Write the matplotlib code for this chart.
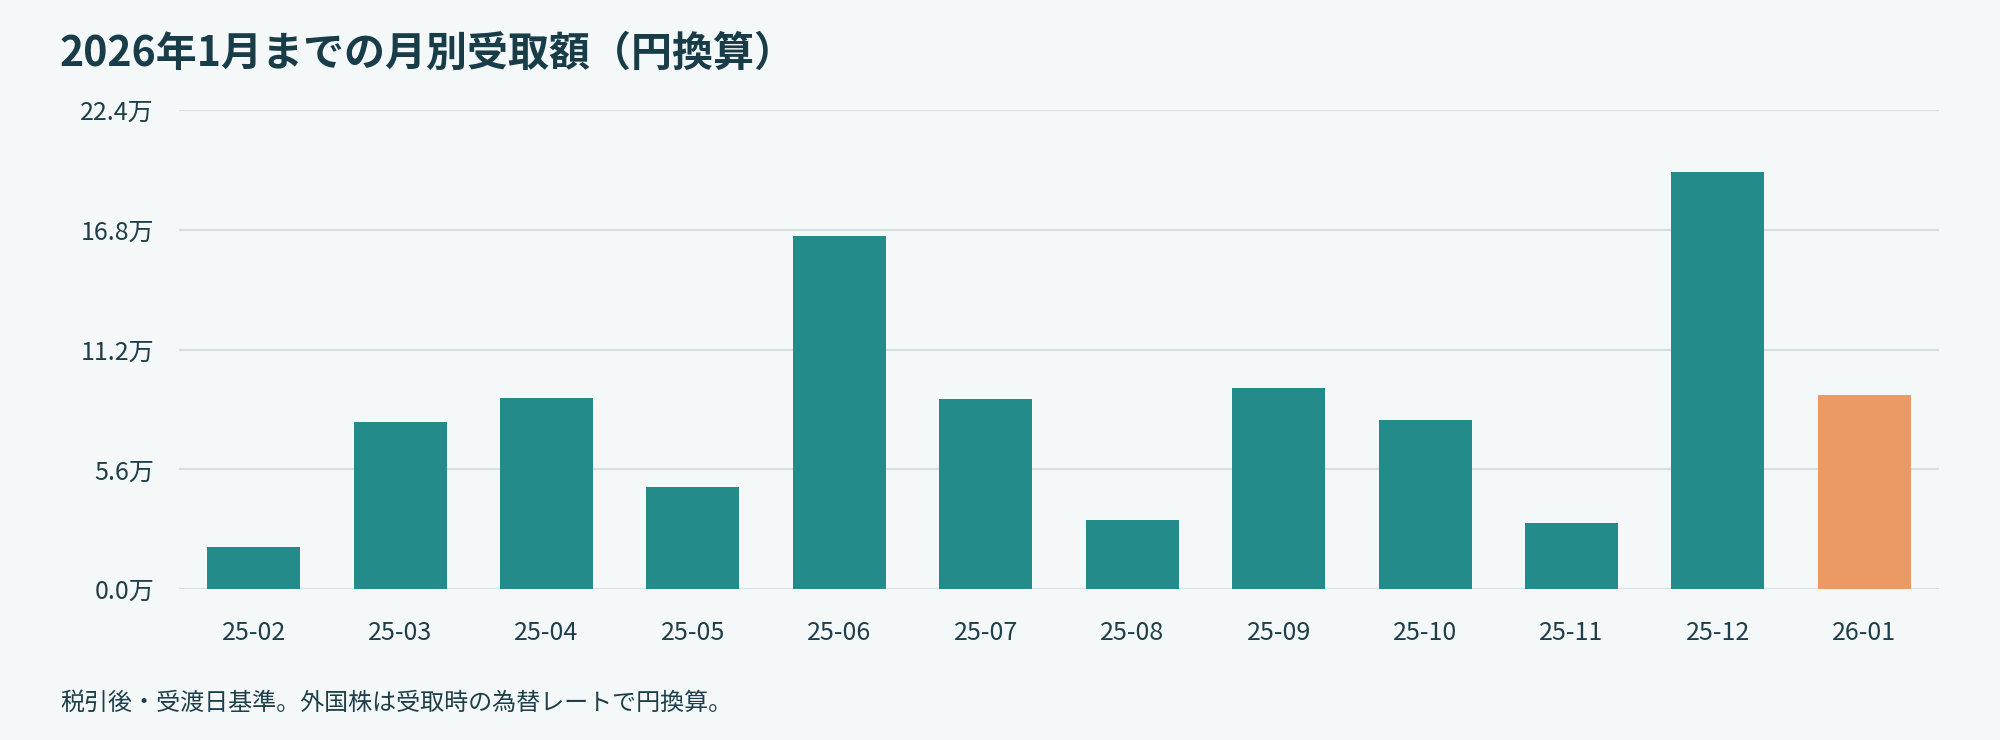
#!/usr/bin/env python3
import matplotlib
matplotlib.use("Agg")
import matplotlib.pyplot as plt
import numpy as np

months = ["25-02", "25-03", "25-04", "25-05", "25-06", "25-07",
          "25-08", "25-09", "25-10", "25-11", "25-12", "26-01"]
# 月別受取額（万円）
amounts = [1.97, 7.80, 8.94, 4.77, 16.50, 8.88, 3.22, 9.41, 7.91, 3.09, 19.50, 9.06]
yticks = [0.0, 5.6, 11.2, 16.8, 22.4]

title = "2026年1月までの月別受取額（円換算）"
note = "税引後・受渡日基準。外国株は受取時の為替レートで円換算。"


def main():
    plt.rcParams["font.family"] = ["Noto Sans CJK JP", "DejaVu Sans"]
    bg = "#f4f8f9"
    teal = "#238b8a"
    orange = "#eb9a63"
    grid = "#d3e0e3"
    text = "#1e3f4a"

    fig = plt.figure(figsize=(20, 7.4), dpi=100, facecolor=bg)
    ax = fig.add_axes([0.0895, 0.204, 0.88, 0.647])
    ax.set_facecolor(bg)

    x = np.arange(len(months))
    colors = [teal] * (len(months) - 1) + [orange]
    ax.bar(x, amounts, width=0.635, color=colors, zorder=3)

    ax.set_xlim(-0.51, len(months) - 0.49)
    ax.set_ylim(0, 22.4)
    ax.set_yticks(yticks)
    ax.set_yticklabels([f"{v:.1f}万" for v in yticks])
    ax.set_xticks(x)
    ax.set_xticklabels(months)

    ax.grid(axis="y", color=grid, lw=1.5, zorder=0)
    ax.set_axisbelow(True)
    for s in ax.spines.values():
        s.set_visible(False)
    ax.tick_params(axis="both", length=0, colors=text, labelsize=18)
    ax.tick_params(axis="y", pad=18)
    ax.tick_params(axis="x", pad=22)

    fig.text(0.03, 0.927, title, fontsize=29.5, fontweight="bold",
             color="#183c48", va="center", ha="left")
    fig.text(0.03, 0.05, note, fontsize=17.3, color=text, va="center", ha="left")

    fig.savefig("out.png", dpi=100, facecolor=bg)
    plt.close(fig)


if __name__ == "__main__":
    main()
